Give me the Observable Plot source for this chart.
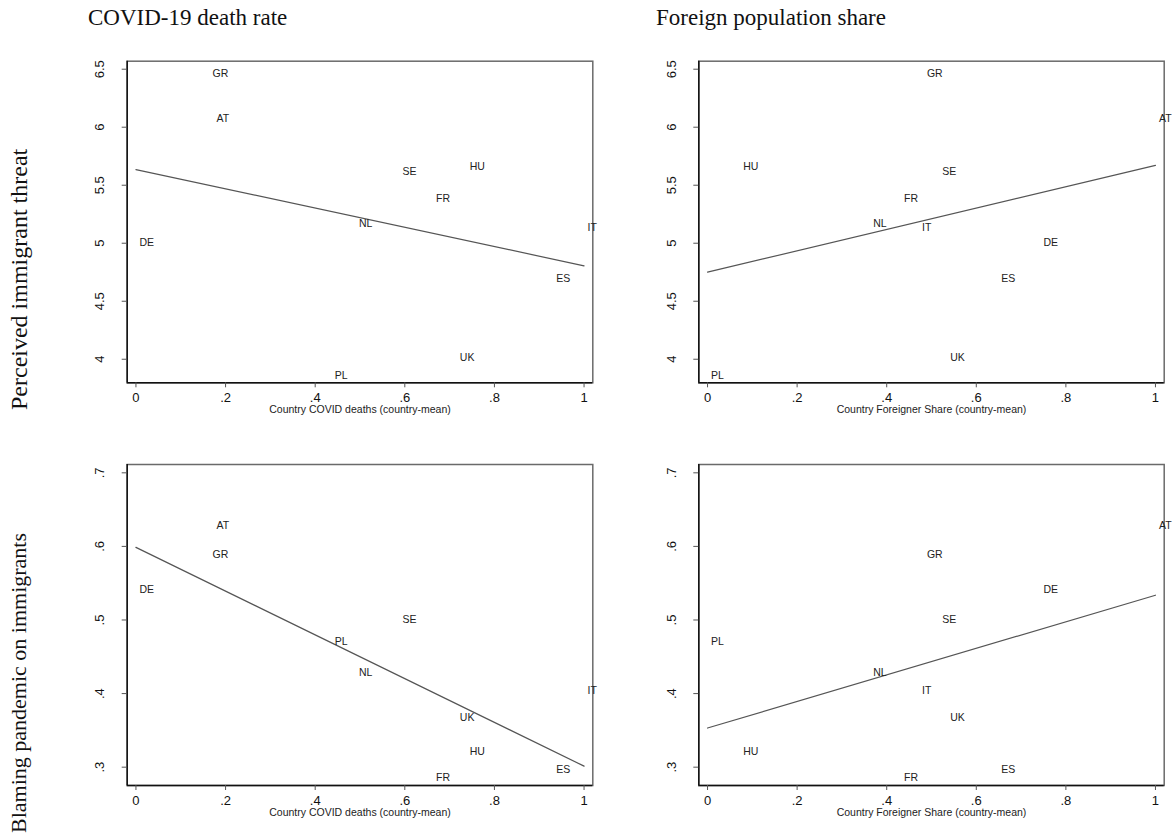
<!DOCTYPE html>
<html>
<head>
<meta charset="utf-8">
<script src="https://cdn.jsdelivr.net/npm/d3@7"></script>
<script src="https://cdn.jsdelivr.net/npm/@observablehq/plot@0.6"></script>
<style>
  body { margin: 0; background: #fff; }
  #chart { position: relative; width: 1173px; height: 835px; overflow: hidden; background: #fff; }
  .panel { position: absolute; }
  .coltitle, .rowtitle {
    position: absolute; font-family: "Liberation Serif", "Times New Roman", serif;
    font-size: 23px; color: #111; white-space: nowrap;
  }
  .rowtitle { transform-origin: 0 0; transform: rotate(-90deg); }
</style>
</head>
<body>
<div id="chart"></div>
<script>
// Country codes and the country-level values (x normalised to 0–1)
const countries    = ["AT", "DE", "ES", "FR", "GR", "HU", "IT", "NL", "PL", "SE", "UK"];
const covidDeaths  = [0.172, 0.000, 0.930, 0.662, 0.163, 0.737, 1.000, 0.490, 0.436, 0.587, 0.715];
const foreignShare = [1.000, 0.742, 0.648, 0.431, 0.482, 0.072, 0.471, 0.362, 0.000, 0.516, 0.534];
const threat       = [6.075, 5.009, 4.692, 5.388, 6.465, 5.664, 5.138, 5.173, 3.858, 5.621, 4.011];
const blame        = [0.628, 0.541, 0.297, 0.286, 0.589, 0.321, 0.404, 0.429, 0.471, 0.500, 0.368];

// Axis ticks
const xTicks      = [0, 0.2, 0.4, 0.6, 0.8, 1];
const threatTicks = [4, 4.5, 5, 5.5, 6, 6.5];
const blameTicks  = [0.3, 0.4, 0.5, 0.6, 0.7];

// Titles
const colTitles = ["COVID-19 death rate", "Foreign population share"];
const rowTitles = ["Perceived immigrant threat", "Blaming pandemic on immigrants"];
const xTitles   = ["Country COVID deaths (country-mean)", "Country Foreigner Share (country-mean)"];

const rows = countries.map((c, i) => ({
  country: c, covid: covidDeaths[i], foreign: foreignShare[i], threat: threat[i], blame: blame[i]
}));

// Stata-style numbers: ".2" rather than "0.2"
const fmt = d => d === 0 ? "0" : String(+d.toFixed(2)).replace(/^0\./, ".");

const xDomain = [-0.0195, 1.0195];

function panel({x, y, yDomain, yTicks, xTitle, width, height, margin}) {
  return Plot.plot({
    width, height,
    marginLeft: margin[0], marginRight: margin[1], marginTop: margin[2], marginBottom: margin[3],
    style: {fontFamily: "'Liberation Sans', Arial, sans-serif", background: "transparent", overflow: "visible", color: "#111"},
    x: {domain: xDomain},
    y: {domain: yDomain},
    marks: [
      Plot.frame({stroke: "#6a6a6a", strokeWidth: 1.5}),
      Plot.ruleX([xDomain[0]], {stroke: "#111", strokeWidth: 1.5}),
      Plot.ruleY([yDomain[0]], {stroke: "#111", strokeWidth: 1.5}),
      // y tick marks, then the rotated tick labels
      Plot.axisY({ticks: yTicks, tickFormat: () => "", tickSize: 5, stroke: "#555", label: null}),
      Plot.axisY({ticks: yTicks, tickFormat: fmt, tickSize: 0, tickPadding: 27, rotate: -90,
                  textAnchor: "middle", fontSize: 13, label: null}),
      Plot.axisX({ticks: xTicks, tickFormat: fmt, tickSize: 5, tickPadding: 5,
                  fontSize: 13, stroke: "#555", label: null}),
      Plot.text([xTitle], {frameAnchor: "bottom", dy: 30, fontSize: 10.5, fill: "#222"}),
      Plot.linearRegressionY(rows, {x, y, ci: 0, stroke: "#555", strokeWidth: 1.2}),
      Plot.text(rows, {x, y, text: "country", textAnchor: "start", dx: 3.5, fontSize: 10.5, fill: "#222"})
    ]
  });
}

const chart = document.getElementById("chart");
const layout = [
  {x: "covid",   y: "threat", yDomain: [3.797, 6.569], yTicks: threatTicks, xTitle: xTitles[0], left: 40,  top: 40,  width: 580, height: 390, margin: [86.7, 27.7, 20.7, 47.7]},
  {x: "foreign", y: "threat", yDomain: [3.797, 6.569], yTicks: threatTicks, xTitle: xTitles[1], left: 620, top: 40,  width: 553, height: 390, margin: [78.3, 9.3, 20.7, 47.7]},
  {x: "covid",   y: "blame",  yDomain: [0.2751, 0.7113], yTicks: blameTicks, xTitle: xTitles[0], left: 40,  top: 440, width: 580, height: 395, margin: [86.7, 27.7, 24, 50]},
  {x: "foreign", y: "blame",  yDomain: [0.2751, 0.7113], yTicks: blameTicks, xTitle: xTitles[1], left: 620, top: 440, width: 553, height: 395, margin: [78.3, 9.3, 24, 50]}
];
for (const p of layout) {
  const svg = panel(p);
  svg.classList.add("panel");
  svg.style.left = p.left + "px";
  svg.style.top = p.top + "px";
  chart.appendChild(svg);
}

// Column headings
[[88, colTitles[0]], [656, colTitles[1]]].forEach(([left, t]) => {
  const d = document.createElement("div");
  d.className = "coltitle";
  d.style.left = left + "px";
  d.style.top = "5px";
  d.textContent = t;
  chart.appendChild(d);
});

// Row headings, rotated to read bottom-to-top
[[279, 24, rowTitles[0]], [683, 22, rowTitles[1]]].forEach(([cy, size, t]) => {
  const d = document.createElement("div");
  d.className = "rowtitle";
  d.style.fontSize = size + "px";
  d.textContent = t;
  chart.appendChild(d);
  const w = d.getBoundingClientRect().height; // rotated: text length is now the box height
  d.style.left = "6px";
  d.style.top = (cy + w / 2) + "px";
});
</script>
</body>
</html>
